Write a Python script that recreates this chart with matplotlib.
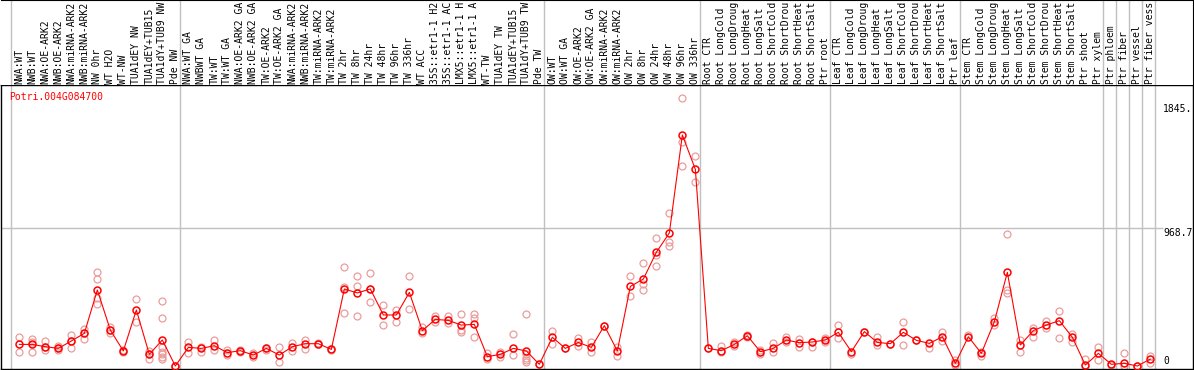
import matplotlib

matplotlib.use("Agg")
import matplotlib.pyplot as plt

plt.rcParams["font.family"] = "DejaVu Sans Mono"
plt.rcParams["font.size"] = 7.0

gene = "Potri.004G084700"

# sample names as far as they are visible in the header (long ones are cut there)
labels = [
    # NW
    "NWA:WT", "NWB:WT", "NWA:OE-ARK2", "NWB:OE-ARK2", "NWA:miRNA-ARK2", "NWB:miRNA-ARK2",
    "NW 0hr", "WT H2O", "WT-NW", "TUA1dEY NW", "TUA1dEY+TUB15", "TUA1dY+TUB9 NW", "Pde NW",
    # TW
    "NWA:WT GA", "NWBWT GA", "TW:WT", "TW:WT GA", "NWA:OE-ARK2 GA", "NWB:OE-ARK2 GA",
    "TW:OE-ARK2", "TW:OE-ARK2 GA", "NWA:miRNA-ARK2", "NWB:miRNA-ARK2", "TW:miRNA-ARK2",
    "TW:miRNA-ARK2", "TW 2hr", "TW 8hr", "TW 24hr", "TW 48hr", "TW 96hr", "TW 336hr", "WT ACC",
    "35S::etr1-1 H2", "35S::etr1-1 AC", "LMX5::etr1-1 H", "LMX5::etr1-1 A", "WT-TW",
    "TUA1dEY TW", "TUA1dEY+TUB15", "TUA1dY+TUB9 TW", "Pde TW",
    # OW
    "OW:WT", "OW:WT GA", "OW:OE-ARK2", "OW:OE-ARK2 GA", "OW:miRNA-ARK2", "OW:miRNA-ARK2",
    "OW 2hr", "OW 8hr", "OW 24hr", "OW 48hr", "OW 96hr", "OW 336hr",
    # root
    "Root CTR", "Root LongCold", "Root LongDroug", "Root LongHeat", "Root LongSalt",
    "Root ShortCold", "Root ShortDrou", "Root ShortHeat", "Root ShortSalt", "Ptr root",
    # leaf
    "Leaf CTR", "Leaf LongCold", "Leaf LongDroug", "Leaf LongHeat", "Leaf LongSalt",
    "Leaf ShortCold", "Leaf ShortDrou", "Leaf ShortHeat", "Leaf ShortSalt", "Ptr leaf",
    # stem + tissues
    "Stem CTR", "Stem LongCold", "Stem LongDroug", "Stem LongHeat", "Stem LongSalt",
    "Stem ShortCold", "Stem ShortDrou", "Stem ShortHeat", "Stem ShortSalt", "Ptr shoot",
    "Ptr xylem", "Ptr phloem", "Ptr fiber", "Ptr vessel", "Ptr fiber vess",
]

# group boundaries (index of first sample after each separator line)
group_starts = [0, 13, 41, 53, 63, 73, 84, 85, 86, 87, 88]

means = [
    152, 152, 136, 124, 176, 230, 535, 253, 106, 394, 82, 183, 0,
    131, 124, 143, 94, 108, 77, 124, 77, 136, 157, 157, 117, 542, 514, 542,
    359, 359, 518, 249, 328, 321, 288, 293, 66, 82, 124, 106, 12,
    202, 124, 166, 131, 284, 106, 560, 612, 800, 936, 1625, 1384,
    124, 108, 152, 213, 101, 124, 183, 164, 169, 183,
    237, 101, 242, 166, 157, 237, 181, 159, 206, 19,
    206, 89, 312, 659, 148, 249, 288, 319, 202, 7,
    89, 12, 19, 0, 49,
]

replicates = [
    [206, 101], [190, 166, 101], [176, 136, 113], [143, 124, 113], [218, 176, 124],
    [260, 230, 190], [659, 610, 476, 434], [277, 253, 230], [110, 100], [471, 307],
    [106, 82, 49], [457, 340, 136, 101, 82, 66, 49], [0, 0],
    [171, 89], [136, 101], [183, 113], [113, 77], [113, 101], [89, 66], [124, 113],
    [136, 26], [164, 106], [183, 117], [160, 155], [120, 114], [699, 556, 371],
    [633, 563, 352], [652, 542, 448], [429, 288], [394, 312], [635, 399], [277, 230],
    [354, 307], [354, 300], [363, 253, 237], [363, 335, 202], [89, 49], [101, 66],
    [223, 77], [363, 82, 59, 42, 26], [12],
    [246, 152], [124], [195, 143], [171, 101], [284], [136, 73], [633, 495],
    [722, 577, 535], [903, 781, 706], [1074, 875, 847], [1883, 1578, 1407], [1477, 1297],
    [124], [143, 101], [166, 143], [218, 206], [113, 82], [159, 101], [206, 171],
    [188, 136], [169, 136], [195, 171],
    [288, 199], [82], [242], [206, 148], [157], [307, 148], [181], [129], [241, 176], [42, 7],
    [218], [101, 73], [335, 288], [926, 535, 511], [183, 101], [270, 202], [317, 265],
    [389, 195], [223, 171], [49, 0],
    [134, 42], [7], [89, 0], [0], [73, 19],
]

ytick_vals = [1845, 968.7, 0]
ytick_text = ["1845.", "968.7", "0"]

RED = "#ff0000"
PINK = "#eb9c9c"
GRID = "#c0c0c0"

W, H = 1194, 370
fig = plt.figure(figsize=(W / 100, H / 100), dpi=100)
ax = fig.add_axes([1 / W, 1 / H, 1192 / W, 284 / H])
hx = fig.add_axes([1 / W, 285 / H, 1192 / W, 85 / H], sharex=ax)

xs = list(range(len(means)))
xlim = (-1.41, 90.28)
ax.set_xlim(*xlim)
ax.set_ylim(-21, 1977)

for k in group_starts:
    ax.axvline(k - 0.66, color=GRID, lw=1, zorder=0)
    hx.axvline(k - 0.66, color=GRID, lw=1, zorder=0)

ax.hlines(968.7, xlim[0], 87.95, color=GRID, lw=1, zorder=0)

for x, reps in zip(xs, replicates):
    ax.plot([x] * len(reps), reps, ls="none", marker="o", ms=5, mfc="none",
            mec=PINK, mew=0.9, zorder=2)

ax.plot(xs, means, color=RED, lw=0.8, marker="o", ms=5, mfc="none",
        mec=RED, mew=1.1, zorder=3)

for v, t in zip(ytick_vals, ytick_text):
    ax.text(88.0, v, t, ha="left", va="bottom" if v == 0 else "top", color="black")

ax.text(0.007, 0.958, gene, transform=ax.transAxes, color=RED, ha="left", va="center")

ax.set_xticks([])
ax.set_yticks([])
for s in ax.spines.values():
    s.set_color("black")
    s.set_linewidth(1)

hx.set_ylim(0, 85)
hx.set_xticks([])
hx.set_yticks([])
hx.spines["left"].set_visible(False)
hx.spines["bottom"].set_visible(False)
for name in ("top", "right"):
    hx.spines[name].set_color("black")
for x, lab in zip(xs, labels):
    hx.text(x, 1.5, lab, rotation=90, ha="center", va="bottom", color="black")

fig.savefig("out.png", dpi=100)
